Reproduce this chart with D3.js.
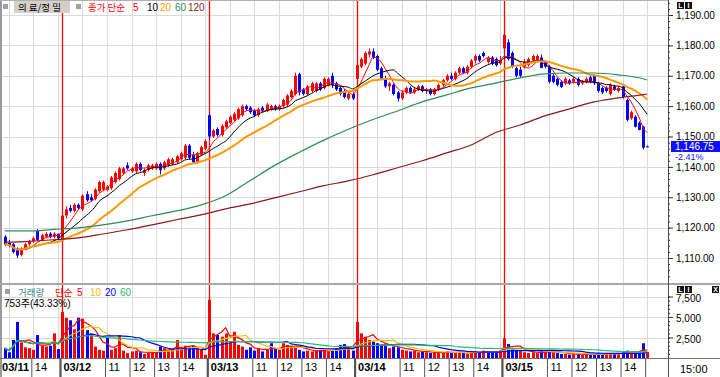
<!DOCTYPE html>
<html>
<head>
<meta charset="utf-8">
<script src="https://cdn.jsdelivr.net/npm/d3@7"></script>
<style>
body { margin: 0; background: #fff; }
svg { display: block; font-family: "Liberation Sans", Arial, sans-serif; }
</style>
</head>
<body>
<svg id="chart" width="720" height="377"></svg>
<script>
// 10분봉, 하루 36개 (09:10 ~ 15:00)
var days = ["03/11", "03/12", "03/13", "03/14", "03/15"];
var slotsPerDay = 36;
var firstSlot = 22;          // 03/11 은 12:50 봉부터 보임
var hourSlots = [5, 11, 17, 23, 29, 35];
var hourLabels = { 11: "11", 17: "12", 23: "13", 29: "14" };
var priceTicks = [1110, 1120, 1130, 1140, 1150, 1160, 1170, 1180, 1190];
var volTicks = [2500, 5000, 7500];

var opens = [1117, 1115, 1114.5, 1113, 1111, 1113, 1114.5, 1115.5, 1119, 1116, 1117, 1118, 1117, 1118,
  1116, 1124, 1126.5, 1125.5, 1127.5, 1126, 1131, 1130, 1129.5, 1132, 1132.5, 1132.5, 1133, 1135, 1136, 1138, 1140.5, 1138.5, 1138.5, 1141, 1138, 1139, 1139.5, 1139.5, 1141, 1139.5, 1140.5, 1141, 1141.5, 1142.5, 1143, 1147, 1144, 1141.5, 1144, 1146,
  1157, 1150, 1152.5, 1150.5, 1153, 1154.5, 1155.5, 1156, 1157, 1160, 1159.5, 1158.5, 1157, 1159.5, 1158.5, 1159, 1160, 1159, 1160, 1160.5, 1163, 1164, 1170.5, 1165.5, 1164, 1165, 1165, 1167.5, 1166, 1167, 1170, 1167.5, 1166, 1165, 1162.5, 1164,
  1169, 1173, 1174, 1177, 1178, 1176.5, 1172.5, 1169, 1166.5, 1167, 1164.5, 1162.5, 1164.5, 1166, 1164.5, 1165.5, 1166.5, 1165, 1165.5, 1164, 1165.5, 1167, 1168.5, 1170, 1169, 1171, 1172.5, 1171, 1173, 1175, 1176.5, 1177.5, 1174.5, 1176, 1175.5, 1174,
  1179, 1181, 1177.5, 1172.5, 1172, 1173, 1173.5, 1175, 1175, 1176, 1174.5, 1173, 1170, 1169, 1168, 1167.5, 1168.5, 1168, 1169, 1167.5, 1168, 1169.5, 1170, 1167.5, 1166, 1166, 1164, 1166.5, 1165, 1166.5, 1162, 1156, 1156.5, 1154.5, 1153.2, 1146.75];
var highs = [1117.5, 1116, 1115, 1113.5, 1113.5, 1115, 1116, 1117, 1119.5, 1118, 1118.5, 1118.5, 1118.5, 1118,
  1125, 1127, 1127.5, 1128, 1128, 1131, 1132, 1131, 1133, 1135.5, 1135.5, 1134, 1137, 1138.5, 1140, 1140, 1141.5, 1140, 1141.5, 1141.5, 1139.5, 1141, 1141, 1141.5, 1141.5, 1142, 1143, 1143, 1144, 1145, 1147.5, 1147.5, 1145, 1145, 1147, 1149,
  1157.5, 1152.5, 1153, 1154, 1155.5, 1157, 1158, 1159.5, 1160.5, 1160.5, 1160, 1159, 1159.5, 1160, 1161, 1160.5, 1160.5, 1160.5, 1162.5, 1164, 1165.5, 1171, 1171, 1166, 1167, 1168, 1168, 1168, 1169.5, 1169.5, 1171, 1168, 1166.5, 1165.5, 1164.5, 1164.5,
  1174, 1176, 1178, 1179, 1179, 1177, 1173, 1170, 1168, 1167.5, 1165, 1165, 1166.5, 1166.5, 1166, 1167, 1167, 1166, 1166, 1166, 1167.5, 1169, 1170.5, 1171, 1171.5, 1173, 1173, 1173.5, 1175.5, 1177, 1177, 1178, 1176.5, 1176.5, 1176, 1176.5,
  1184, 1182, 1178, 1173, 1173, 1175.5, 1176, 1177, 1177, 1177, 1175, 1173.5, 1170.5, 1169.5, 1168.5, 1169.5, 1169, 1169.5, 1169.5, 1168.5, 1169.5, 1170, 1170.5, 1168, 1166.5, 1166.5, 1167.5, 1167, 1166.5, 1167, 1162.5, 1158.5, 1157, 1155, 1153.5, 1147];
var lows = [1114, 1113.5, 1111.5, 1110, 1110.5, 1112.5, 1114, 1115, 1115.5, 1115.5, 1116.5, 1116.5, 1116.5, 1116,
  1115.5, 1123, 1125, 1125, 1126, 1125.5, 1128.5, 1128.5, 1129, 1131.5, 1132, 1132, 1132.5, 1134.5, 1135.5, 1137.5, 1139, 1138, 1138, 1138.5, 1137, 1138.5, 1139, 1139, 1137.5, 1139, 1140, 1140.5, 1141, 1142, 1142.5, 1142.5, 1141, 1141, 1143.5, 1145.5,
  1149, 1149.5, 1150, 1150, 1152.5, 1154, 1155, 1155.5, 1156.5, 1158.5, 1157.5, 1156.5, 1156.5, 1158, 1158, 1158.5, 1158.5, 1158.5, 1159.5, 1160, 1162.5, 1163.5, 1163.5, 1163.5, 1163.5, 1164.5, 1164.5, 1165, 1165.5, 1166.5, 1166, 1165, 1163.5, 1162.5, 1162, 1162,
  1168.5, 1172.5, 1173.5, 1176, 1175.5, 1171.5, 1168.5, 1166, 1165, 1163.5, 1161.5, 1162, 1164, 1164, 1164, 1165, 1164.5, 1164, 1163.5, 1163.5, 1165, 1166.5, 1168, 1168.5, 1168.5, 1170.5, 1170.5, 1170.5, 1172.5, 1174, 1174.5, 1176, 1174, 1173.5, 1173, 1173.5,
  1178.5, 1175, 1172.5, 1169.5, 1169.5, 1172.5, 1173, 1174.5, 1174.5, 1172.5, 1172.5, 1167.5, 1167.5, 1166.5, 1166, 1167, 1167, 1167.5, 1166.5, 1167, 1167.5, 1167.5, 1167, 1164.5, 1164, 1164.5, 1163.5, 1165, 1164.5, 1162.5, 1155, 1155.5, 1153, 1152, 1145.8, 1146.5];
var closes = [1114.5, 1114, 1112, 1110.8, 1113, 1114.5, 1115.5, 1116.5, 1116, 1117.5, 1118, 1117, 1118, 1116.5,
  1124, 1126, 1125.5, 1127.5, 1126.5, 1130.5, 1129, 1129, 1132.5, 1135, 1135, 1133.5, 1136.5, 1138, 1139.5, 1139.5, 1139.5, 1139.5, 1141, 1139, 1139, 1140.5, 1140.5, 1141, 1139, 1141.5, 1142.5, 1142.5, 1143.5, 1144.5, 1147, 1143, 1141.5, 1144.5, 1146.5, 1148.5,
  1150, 1152, 1150.5, 1153.5, 1155, 1156.5, 1157.5, 1159, 1160, 1159, 1158, 1157, 1159, 1158.5, 1160.5, 1160, 1159, 1160, 1162, 1163.5, 1165, 1170, 1164.5, 1164, 1166.5, 1167.5, 1167.5, 1165.5, 1169, 1169, 1167, 1165.5, 1164, 1163, 1164, 1162.5,
  1173.5, 1175.5, 1177.5, 1178, 1176, 1172, 1169, 1166.5, 1167.5, 1164, 1162.5, 1164.5, 1166, 1164.5, 1165.5, 1166.5, 1165, 1165.5, 1164, 1165.5, 1167, 1168.5, 1170, 1169, 1171, 1172.5, 1171, 1173, 1175, 1176.5, 1175, 1176.5, 1176, 1174, 1173.5, 1175.1,
  1183.5, 1175.5, 1173, 1170, 1170, 1174.5, 1175.5, 1176.5, 1176.5, 1172.6, 1173, 1168, 1168, 1167, 1166.3, 1169, 1167.5, 1169, 1167, 1168.3, 1169, 1168, 1167.5, 1165, 1164.5, 1165, 1167, 1165.5, 1166, 1163, 1155.5, 1158, 1153.2, 1152.2, 1146.3, 1146.75];
var volumes = [1200, 700, 2200, 4400, 1900, 1300, 1200, 1000, 2800, 1500, 1400, 1500, 3000, 1100,
  5600, 4900, 4600, 3500, 4900, 4800, 3400, 3000, 1400, 1000, 900, 2500, 1000, 1200, 2800, 900, 600, 800, 900, 700, 500, 600, 700, 700, 1400, 1200, 900, 1100, 2200, 1000, 1500, 1300, 1500, 1200, 1000, 400,
  7100, 3000, 2800, 2600, 3000, 2000, 3200, 1600, 1400, 1000, 1300, 900, 1200, 800, 1000, 1800, 1100, 1000, 1800, 1600, 1500, 1400, 1000, 800, 900, 800, 900, 1000, 900, 800, 900, 1200, 1600, 1700, 1300, 900,
  4400, 3000, 2600, 2200, 2000, 1800, 1600, 1500, 1200, 1400, 1300, 1000, 900, 800, 900, 700, 800, 700, 600, 700, 600, 700, 800, 600, 700, 700, 600, 500, 700, 800, 700, 900, 800, 700, 800, 900,
  2400, 1700, 1200, 1000, 900, 700, 600, 700, 600, 800, 700, 900, 700, 600, 500, 500, 400, 500, 500, 400, 500, 400, 500, 600, 500, 500, 600, 500, 600, 700, 900, 800, 700, 800, 1800, 753];

// 60, 120 이평선은 화면에서 6봉마다 읽은 값 (마지막 봉 포함)
var ma60 = [1118.9, 1118.9, 1119.4, 1119.9, 1120.9, 1122.2, 1123.9, 1125.5, 1127.5, 1130.5, 1135.5, 1140.5, 1144.8, 1148.8,
  1152.4, 1155.6, 1158.4, 1161.4, 1163.7, 1166, 1167.6, 1169.3, 1170.6, 1170.9, 1170.9, 1170.3, 1169, 1168.6];
var ma120 = [1115.2, 1115.5, 1116, 1116.6, 1117.9, 1119.3, 1120.9, 1122.6, 1124.2, 1126.2, 1127.8, 1129.8, 1131.8, 1133.8,
  1135.4, 1137.4, 1139.7, 1142, 1144.6, 1147.2, 1151.3, 1153.8, 1156.8, 1159.1, 1161.4, 1162.7, 1163.8, 1164];

var lastPrice = "1,146.75";
var lastChange = "-2.41%";
var lastVolText = "753주(43.33%)";

window.addEventListener("load", function(){

	var svg = d3.select("#chart");
	var plotR = 668;
	var priceBot = 283, volTop = 285, volBot = 358;

	var x = d3.scaleLinear().domain([21, 183]).range([0.6, 663.5]);
	var y = d3.scaleLinear().domain([1110, 1190]).range([258, 15]);
	var yv = d3.scaleLinear().domain([0, 7500]).range([358, 296.5]);

	var candles = closes.map(function(c, j){
		return {
			s: firstSlot + j, o: opens[j], h: highs[j], l: lows[j], c: c, v: volumes[j],
			up: c > opens[j],
			vUp: j === 0 ? c > opens[j] : c >= closes[j - 1]   // 거래량 색은 직전봉 대비
		};
	});

	var defs = svg.append("defs");
	defs.append("clipPath").attr("id", "clipP").append("rect").attr("x", 0).attr("y", 0).attr("width", plotR).attr("height", priceBot);
	defs.append("clipPath").attr("id", "clipV").append("rect").attr("x", 0).attr("y", volTop).attr("width", plotR).attr("height", volBot - volTop);

	// 그리드
	var vSlots = [];
	days.forEach(function(d, di){
		hourSlots.forEach(function(k){
			var s = di * slotsPerDay + k;
			if (s >= 21 && s <= 183) vSlots.push(s);
		});
	});
	var grid = svg.append("g").attr("stroke", "#dadada").attr("stroke-width", 1);
	grid.selectAll("line.h").data(priceTicks).enter().append("line")
		.attr("x1", 0).attr("x2", plotR)
		.attr("y1", function(d){ return Math.round(y(d)) + 0.5; })
		.attr("y2", function(d){ return Math.round(y(d)) + 0.5; });
	grid.selectAll("line.hv").data(volTicks).enter().append("line")
		.attr("x1", 0).attr("x2", plotR)
		.attr("y1", function(d){ return Math.round(yv(d)) + 0.5; })
		.attr("y2", function(d){ return Math.round(yv(d)) + 0.5; });
	grid.selectAll("line.v").data(vSlots).enter().append("line")
		.attr("x1", function(d){ return Math.round(x(d)) + 0.5; })
		.attr("x2", function(d){ return Math.round(x(d)) + 0.5; })
		.attr("y1", 0).attr("y2", volBot);

	// 날짜 구분선
	svg.append("g").selectAll("line").data([1, 2, 3, 4]).enter().append("line")
		.attr("x1", function(d){ return Math.round(x(d * slotsPerDay)) + 0.5; })
		.attr("x2", function(d){ return Math.round(x(d * slotsPerDay)) + 0.5; })
		.attr("y1", 0).attr("y2", volBot)
		.attr("stroke", "#ff0000").attr("stroke-width", 1.3);

	// 캔들
	var cg = svg.append("g").attr("clip-path", "url(#clipP)");
	var cs = cg.selectAll("g").data(candles).enter().append("g");
	cs.append("line")
		.attr("x1", function(d){ return Math.round(x(d.s)) + 0.5; })
		.attr("x2", function(d){ return Math.round(x(d.s)) + 0.5; })
		.attr("y1", function(d){ return y(Math.max(d.h, d.o, d.c)); })
		.attr("y2", function(d){ return y(Math.min(d.l, d.o, d.c)); })
		.attr("stroke", function(d){ return d.up ? "#ff0000" : "#0000ff"; });
	cs.append("rect")
		.attr("x", function(d){ return Math.round(x(d.s)) - 1; })
		.attr("width", 3)
		.attr("y", function(d){ return y(Math.max(d.o, d.c)); })
		.attr("height", function(d){ return Math.max(1, Math.abs(y(d.o) - y(d.c))); })
		.attr("fill", function(d){ return d.up ? "#ff0000" : "#0000ff"; });

	// 이동평균
	function sma(arr, n){
		return arr.map(function(d, i){
			return d3.mean(arr.slice(Math.max(0, i - n + 1), i + 1));
		});
	}
	var sampleIdx = d3.range(0, candles.length, 6).concat([candles.length - 1]);
	var priceLines = [
		{ vals: sma(closes, 5), idx: d3.range(candles.length), color: "#ff0000", w: 1 },
		{ vals: sma(closes, 10), idx: d3.range(candles.length), color: "#000000", w: 1 },
		{ vals: sma(closes, 20), idx: d3.range(candles.length), color: "#ff9900", w: 2 },
		{ vals: ma60, idx: sampleIdx, color: "#2e8b57", w: 1.2 },
		{ vals: ma120, idx: sampleIdx, color: "#8b1a1a", w: 1.2 }
	];
	var line = d3.line().curve(d3.curveMonotoneX)
		.x(function(d){ return x(d[0]); })
		.y(function(d){ return y(d[1]); });
	var mg = svg.append("g").attr("clip-path", "url(#clipP)");
	priceLines.forEach(function(pl){
		var pts = pl.idx.map(function(j, i){ return [firstSlot + j, pl.vals[i]]; });
		mg.append("path").attr("d", line(pts)).attr("fill", "none")
			.attr("stroke", pl.color).attr("stroke-width", pl.w);
	});

	// 거래량
	var vg = svg.append("g").attr("clip-path", "url(#clipV)");
	vg.selectAll("rect").data(candles).enter().append("rect")
		.attr("x", function(d){ return Math.round(x(d.s)) - 1; })
		.attr("width", 3)
		.attr("y", function(d){ return yv(d.v); })
		.attr("height", function(d){ return volBot - yv(d.v); })
		.attr("fill", function(d){ return d.vUp ? "#ff0000" : "#0000ff"; });
	var vline = d3.line()
		.x(function(d, i){ return x(firstSlot + i); })
		.y(function(d){ return yv(d); });
	[[5, "#ff0000"], [10, "#f0c000"], [20, "#0000ff"], [60, "#22c070"]].forEach(function(m){
		vg.append("path").attr("d", vline(sma(volumes, m[0]))).attr("fill", "none")
			.attr("stroke", m[1]).attr("stroke-width", 1.2);
	});

	// 테두리
	svg.append("rect").attr("x", 0).attr("y", 0).attr("width", 2).attr("height", 377).attr("fill", "#9a9a9a");
	svg.append("rect").attr("x", 0).attr("y", 0).attr("width", plotR).attr("height", 1).attr("fill", "#b0b0b0");
	svg.append("rect").attr("x", 0).attr("y", priceBot).attr("width", 720).attr("height", 2).attr("fill", "#a8a8a8");
	svg.append("line").attr("x1", 0).attr("x2", 720).attr("y1", volBot + 0.5).attr("y2", volBot + 0.5).attr("stroke", "#707070");
	svg.append("line").attr("x1", plotR + 0.5).attr("x2", plotR + 0.5).attr("y1", 0).attr("y2", 377).attr("stroke", "#505050");

	// 오른쪽 축
	var pAxis = svg.append("g").attr("transform", "translate(" + plotR + ",0)")
		.call(d3.axisRight(y).tickValues(priceTicks).tickSize(5).tickFormat(d3.format(",.2f")));
	svg.append("g").attr("transform", "translate(" + plotR + ",0)")
		.call(d3.axisRight(y).tickValues(d3.range(1104, 1195, 2)).tickSize(2).tickFormat(""))
		.call(function(g){ g.select(".domain").remove(); });
	var vAxis = svg.append("g").attr("transform", "translate(" + plotR + ",0)")
		.call(d3.axisRight(yv).tickValues(volTicks).tickSize(5).tickFormat(d3.format(",")));
	svg.append("g").attr("transform", "translate(" + plotR + ",0)")
		.call(d3.axisRight(yv).tickValues(d3.range(500, 8000, 500)).tickSize(2).tickFormat(""))
		.call(function(g){ g.select(".domain").remove(); });
	[pAxis, vAxis].forEach(function(a){
		a.select(".domain").remove();
		a.selectAll("text").attr("x", 8).attr("font-size", 10).attr("font-family", "Liberation Sans, Arial").attr("fill", "#000");
	});
	vAxis.selectAll("text").attr("dy", "0.45em");
	svg.selectAll(".tick line").attr("stroke", "#333");

	// 현재가
	svg.append("rect").attr("x", 671).attr("y", 141).attr("width", 49).attr("height", 11).attr("fill", "#1010ff");
	svg.append("text").attr("x", 675).attr("y", 150).attr("font-size", 10).attr("fill", "#fff").text(lastPrice);
	svg.append("text").attr("x", 675).attr("y", 160).attr("font-size", 9).attr("fill", "#1010ff").text(lastChange);

	// X 축
	var xTicks = [], xText = {};
	xTicks.push(21); xText[21] = days[0];
	xTicks.push(29); xText[29] = "14";
	for (var di = 1; di < days.length; di++){
		var s0 = di * slotsPerDay;
		xTicks.push(s0); xText[s0] = days[di];
		[11, 17, 23, 29].forEach(function(k){ xTicks.push(s0 + k); xText[s0 + k] = hourLabels[k]; });
	}
	xTicks.push(4 * slotsPerDay + 35); xText[4 * slotsPerDay + 35] = "";
	var xa = svg.append("g").attr("transform", "translate(-2," + volBot + ")")
		.call(d3.axisBottom(x).tickValues(xTicks).tickSize(19).tickFormat(function(d){ return xText[d]; }));
	xa.select(".domain").remove();
	xa.selectAll(".tick line").attr("stroke", "#555")
		.attr("stroke-width", function(d){ return d % slotsPerDay === 0 ? 2.2 : 1; });
	xa.selectAll(".tick text").attr("text-anchor", "start").attr("x", 3).attr("y", 5).attr("dy", "0.71em")
		.attr("font-size", 11).attr("fill", "#000")
		.attr("font-weight", function(d){ return (d % slotsPerDay === 0 || d === 21) ? "bold" : "normal"; });
	svg.append("text").attr("x", 680).attr("y", 373).attr("font-size", 11).attr("fill", "#000").text("15:00");

	// 범례
	var kfont = "'Noto Sans CJK KR', sans-serif";
	svg.append("rect").attr("x", 3).attr("y", 4).attr("width", 5).attr("height", 5).attr("fill", "#a0a0a0");
	svg.append("rect").attr("x", 14).attr("y", 1).attr("width", 56).attr("height", 12).attr("fill", "#d4d0c8");
	svg.append("text").attr("x", 18).attr("y", 11).attr("font-family", kfont).attr("font-size", 9.5).attr("fill", "#000").text("의 료/정 밀");
	svg.append("rect").attr("x", 76).attr("y", 4).attr("width", 5).attr("height", 5).attr("fill", "#a0a0a0");
	var lg = [["종가 단순", 88, "#ff0000", kfont], ["5", 133, "#ff0000"], ["10", 147, "#000"], ["20", 160, "#ff9900"], ["60", 175, "#2e8b57"], ["120", 188, "#8b1a1a"]];
	lg.forEach(function(t){
		svg.append("text").attr("x", t[1]).attr("y", 11).attr("font-size", t[3] ? 9.5 : 10)
			.attr("font-family", t[3] || "Liberation Sans, Arial").attr("fill", t[2]).text(t[0]);
	});
	svg.append("rect").attr("x", 5).attr("y", 289).attr("width", 5).attr("height", 5).attr("fill", "#a0a0a0");
	var vlg = [["거래량", 18, "#3a8c8c", kfont], ["단순", 55, "#ff0000", kfont], ["5", 77, "#ff0000"], ["10", 90, "#f0c000"], ["20", 105, "#0000ff"], ["60", 120, "#22c070"]];
	vlg.forEach(function(t){
		svg.append("text").attr("x", t[1]).attr("y", 296).attr("font-size", t[3] ? 9.5 : 10)
			.attr("font-family", t[3] || "Liberation Sans, Arial").attr("fill", t[2]).text(t[0]);
	});
	svg.append("text").attr("x", 4).attr("y", 307).attr("font-size", 10).attr("fill", "#000")
		.attr("font-family", "Liberation Sans, 'Noto Sans CJK KR', sans-serif").text(lastVolText);

	// LI 아이콘
	function icon(x0, y0, txt){
		svg.append("rect").attr("x", x0).attr("y", y0).attr("width", 7).attr("height", 7).attr("fill", "#111");
		svg.append("text").attr("x", x0 + 3.5).attr("y", y0 + 6).attr("text-anchor", "middle")
			.attr("font-size", 7).attr("font-weight", "bold").attr("fill", "#fff").text(txt);
	}
	icon(677, 2, "L"); icon(685, 2, "I");
	icon(677, 286, "L"); icon(685, 286, "I");
	icon(712, 286, "X");

});
</script>
</body>
</html>
